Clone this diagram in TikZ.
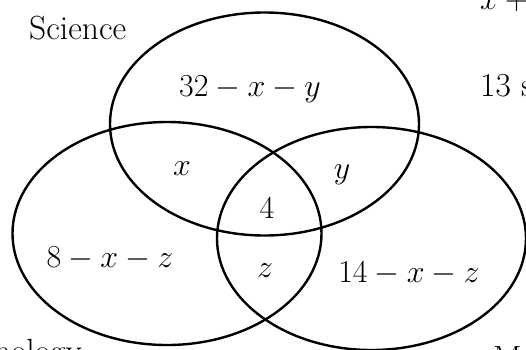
\RequirePackage{fix-cm}
\documentclass[tikz,border=0pt]{standalone}
\usetikzlibrary{shapes.geometric}
\begin{document}
\begin{tikzpicture}[x=1pt,y=-1pt,
  setring/.style={draw, line width=2.4pt, ellipse, inner sep=0pt,
    minimum width=309pt, minimum height=223pt},
  mlabel/.style={inner sep=0pt, font=\fontsize{32}{38}\selectfont},
  tlabel/.style={inner sep=0pt, font=\fontsize{33.5}{40}\selectfont}]
\useasboundingbox (0,0) rectangle (526,349);
\clip (0,0) rectangle (526,349);
\node[setring] (sci) at (264.5,124) {};
\node[setring] (tech) at (167,233.5) {};
\node[setring] (math) at (371.5,238.5) {};
\node[tlabel, anchor=base west] (scil) at (29,39) {Science};
\node[tlabel, anchor=base east] (techl) at (82,362) {Technology};
\node[tlabel, anchor=base west] (mathl) at (493,369) {Maths};
\node[mlabel, anchor=base] (s) at (250,96) {$32-x-y$};
\node[mlabel, anchor=base] (sx) at (182,175) {$x$};
\node[mlabel, anchor=base] (sy) at (342,178) {$y$};
\node[mlabel, anchor=base] (c) at (267,218) {$4$};
\node[mlabel, anchor=base] (t) at (110,267) {$8-x-z$};
\node[mlabel, anchor=base] (tz) at (265,277) {$z$};
\node[mlabel, anchor=base] (m) at (409,282) {$14-x-z$};
\node[mlabel, anchor=base west] (eq) at (480,9) {$x+{}$};
\node[tlabel, anchor=base west] (note) at (480,96) {13 s};
\end{tikzpicture}
\end{document}
